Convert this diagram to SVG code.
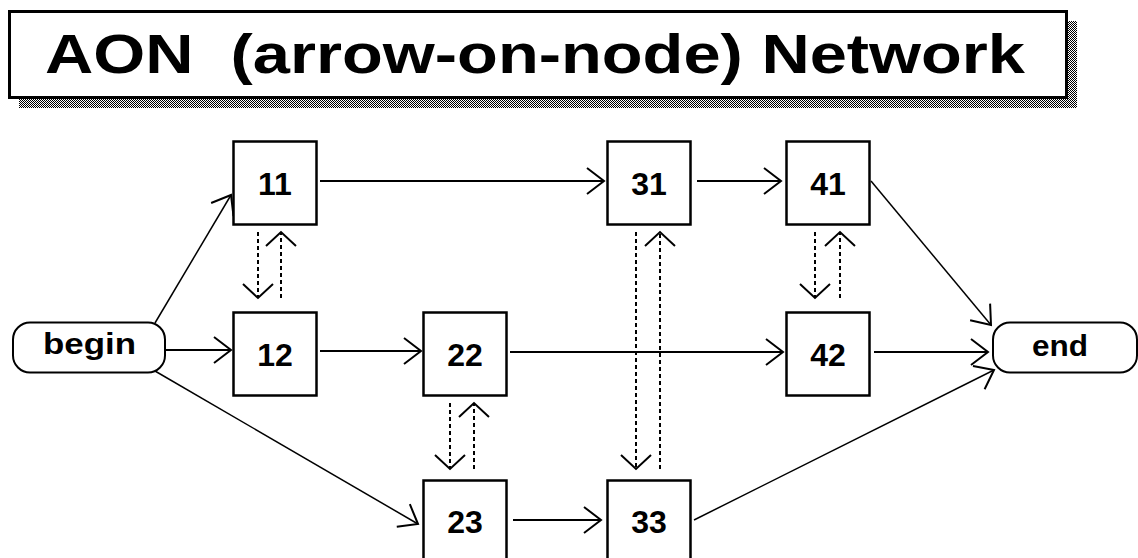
<svg xmlns="http://www.w3.org/2000/svg" width="1138" height="558" viewBox="0 0 1138 558">
<style>
  .box{fill:#fff;stroke:#000;stroke-width:2.5}
  .pill{fill:#fff;stroke:#000;stroke-width:2}
  .lbl{font-family:"Liberation Sans",Arial,sans-serif;font-weight:bold;font-size:32px;text-anchor:middle;fill:#000}
  .term{font-family:"Liberation Sans",Arial,sans-serif;font-weight:bold;font-size:29px;text-anchor:middle;fill:#000}
  .title{font-family:"Liberation Sans",Arial,sans-serif;font-weight:bold;font-size:56px;fill:#000;white-space:pre}
  .arr{stroke:#000;stroke-width:2;fill:none;marker-end:url(#ah)}
  .diag{stroke-width:1.5}
  .dot{stroke:#000;stroke-width:2;stroke-dasharray:4 3;fill:none;marker-end:url(#dh)}
</style>
<defs>
  <pattern id="dither" width="2" height="2" patternUnits="userSpaceOnUse">
    <rect x="0" y="0" width="1" height="1" fill="#000"/>
    <rect x="1" y="1" width="1" height="1" fill="#000"/>
  </pattern>
  <marker id="ah" viewBox="-20 -16 24 32" refX="0" refY="0" markerWidth="24" markerHeight="32" markerUnits="userSpaceOnUse" orient="auto">
    <path d="M-17,-13 L0,0 L-17,13" fill="none" stroke="#000" stroke-width="2" stroke-dasharray="none"/>
  </marker>
  <marker id="dh" viewBox="-18 -18 22 36" refX="0" refY="0" markerWidth="22" markerHeight="36" markerUnits="userSpaceOnUse" orient="auto">
    <path d="M-14,-15 L0,0 L-14,15" fill="none" stroke="#000" stroke-width="2" stroke-dasharray="none"/>
  </marker>
</defs>
<rect x="0" y="0" width="1138" height="558" fill="#fff"/>

<g id="title">
  <rect x="19" y="98" width="1058" height="10" fill="url(#dither)"/>
  <rect x="1067" y="21" width="10" height="87" fill="url(#dither)"/>
  <rect x="9.5" y="11.5" width="1057" height="86" fill="#fff" stroke="#000" stroke-width="3"/>
  <text class="title" x="45" y="73" textLength="980" lengthAdjust="spacingAndGlyphs">AON  (arrow-on-node) Network</text>
</g>

<g id="connectors">
  <path class="arr diag" d="M155,323 L231,195"/>
  <path class="arr" d="M165,350 L231,350"/>
  <path class="arr diag" d="M155,371 L418,524"/>
  <path class="arr" d="M320,181 L604,181"/>
  <path class="arr" d="M320,351 L421,351"/>
  <path class="arr" d="M510,352 L783,352"/>
  <path class="arr" d="M697,181 L781,181"/>
  <path class="arr diag" d="M871,181 L991,325"/>
  <path class="arr" d="M874,352 L988,352"/>
  <path class="arr" d="M513,520 L601,520"/>
  <path class="arr diag" d="M694,520 L994,370"/>
  <path class="dot" d="M258,232 L258,298"/>
  <path class="dot" d="M281,298 L281,232"/>
  <path class="dot" d="M450,403 L450,469"/>
  <path class="dot" d="M474,469 L474,403"/>
  <path class="dot" d="M636,232 L636,469"/>
  <path class="dot" d="M660,469 L660,232"/>
  <path class="dot" d="M815,232 L815,298"/>
  <path class="dot" d="M840,298 L840,232"/>
</g>

<g id="node-begin">
  <rect class="pill" x="13" y="322.5" width="152" height="50" rx="17"/>
  <text class="term" x="89.5" y="354" textLength="93" lengthAdjust="spacingAndGlyphs">begin</text>
</g>
<g id="node-end">
  <rect class="pill" x="993" y="322.5" width="144" height="50" rx="17"/>
  <text class="term" x="1060" y="356" textLength="56" lengthAdjust="spacingAndGlyphs">end</text>
</g>
<g id="node-11">
  <rect class="box" x="233.5" y="141.5" width="83" height="83"/>
  <text class="lbl" x="275" y="195">11</text>
</g>
<g id="node-12">
  <rect class="box" x="233.5" y="312.5" width="83" height="83"/>
  <text class="lbl" x="275" y="366">12</text>
</g>
<g id="node-22">
  <rect class="box" x="423.5" y="312.5" width="83" height="83"/>
  <text class="lbl" x="465" y="366">22</text>
</g>
<g id="node-23">
  <rect class="box" x="423.5" y="480.5" width="83" height="83"/>
  <text class="lbl" x="465" y="533">23</text>
</g>
<g id="node-31">
  <rect class="box" x="607.5" y="141.5" width="83" height="83"/>
  <text class="lbl" x="649" y="195">31</text>
</g>
<g id="node-33">
  <rect class="box" x="607.5" y="480.5" width="83" height="83"/>
  <text class="lbl" x="649" y="533">33</text>
</g>
<g id="node-41">
  <rect class="box" x="786.5" y="141.5" width="83" height="83"/>
  <text class="lbl" x="828" y="195">41</text>
</g>
<g id="node-42">
  <rect class="box" x="786.5" y="312.5" width="83" height="83"/>
  <text class="lbl" x="828" y="366">42</text>
</g>
</svg>
